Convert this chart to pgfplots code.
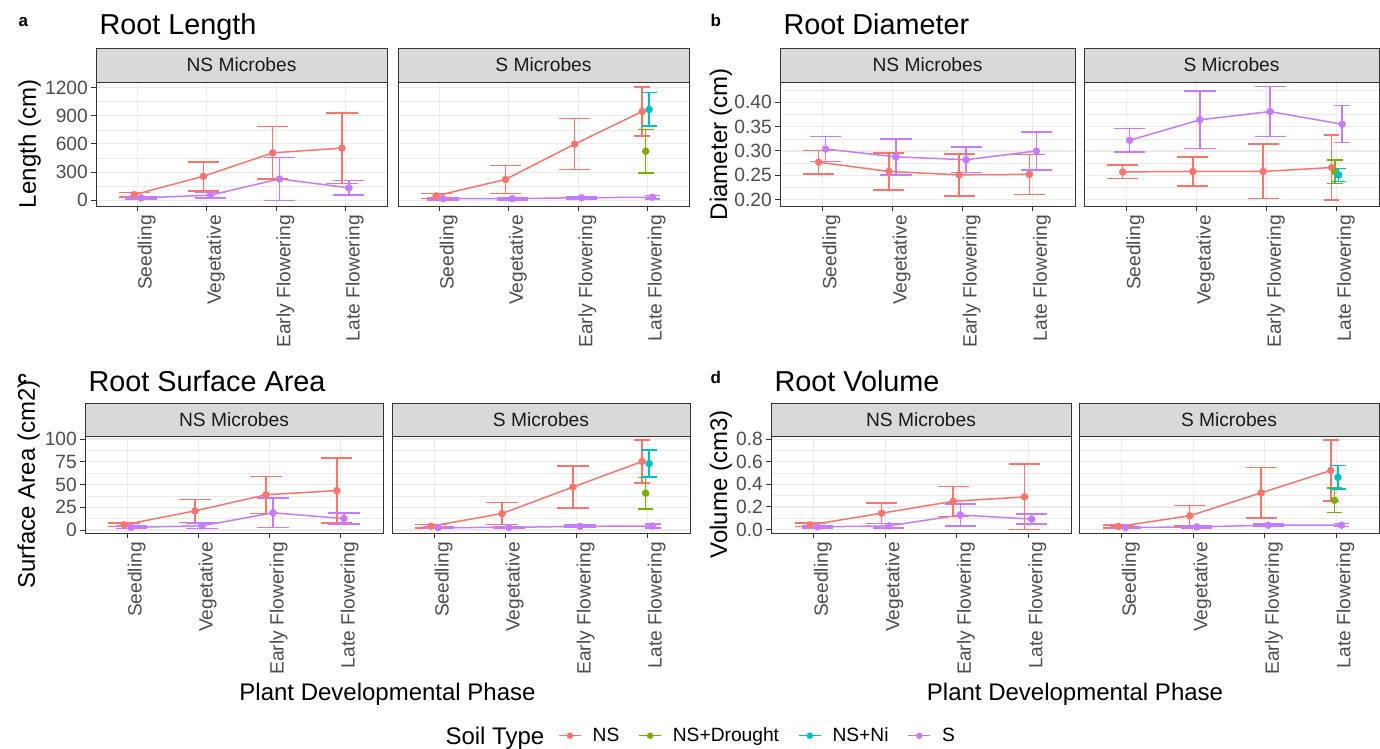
\documentclass[border=0pt]{standalone}
\usepackage{pgfplots}
\pgfplotsset{compat=1.18}
\usepackage{fontspec}
\setmainfont{Liberation Sans}
\definecolor{cNS}{HTML}{F8766D}
\definecolor{cND}{HTML}{7CAE00}
\definecolor{cNi}{HTML}{00BFC4}
\definecolor{cS}{HTML}{C77CFF}
\definecolor{gridc}{HTML}{EBEBEB}
\definecolor{axc}{HTML}{333333}
\definecolor{tickc}{HTML}{4D4D4D}
\definecolor{stripc}{HTML}{D9D9D9}
\definecolor{stript}{HTML}{1A1A1A}
\newcommand\ticfont{\fontsize{19.2}{23}\selectfont}
\newcommand\labfont{\fontsize{24}{28}\selectfont}
\newcommand\titfont{\fontsize{28.8}{34}\selectfont}
\newcommand\tagfont{\fontsize{17}{20}\selectfont\bfseries}
\pgfplotsset{
  facet/.style={
    scale only axis, anchor=south west,
    xmin=0.4, xmax=4.6, xtick={1,2,3,4},
    xticklabels={Seedling,Vegetative,Early Flowering,Late Flowering},
    xmajorgrids, ymajorgrids, yminorgrids,
    major grid style={draw=gridc, line width=1.1pt},
    minor grid style={draw=gridc, line width=0.55pt},
    tick align=outside, major tick length=5pt, minor tick length=0pt,
    xtick pos=left, ytick pos=left,
    tick style={draw=axc, line width=1pt},
    axis line style={draw=axc, line width=0.9pt},
    ticklabel style={font=\ticfont, text=tickc},
    xticklabel style={rotate=90, anchor=north east, inner sep=0pt, xshift=-4pt},
    yticklabel style={inner sep=0pt, xshift=-3pt},
    /pgf/number format/assume math mode=true,
  },
  nofirst/.style={yticklabels={}, ytick style={draw=none}},
  ln/.style={line width=1.5pt, mark=none},
  eb/.style={only marks, mark=*, mark size=3.5pt,
    /pgfplots/error bars/y dir=both, /pgfplots/error bars/y explicit,
    /pgfplots/error bars/error bar style={line width=1.5pt},
    /pgfplots/error bars/error mark options={rotate=90, mark size=15.6pt, line width=1.5pt}},
  ebq/.style={only marks, mark=*, mark size=3.5pt,
    /pgfplots/error bars/y dir=both, /pgfplots/error bars/y explicit,
    /pgfplots/error bars/error bar style={line width=1.5pt},
    /pgfplots/error bars/error mark options={rotate=90, mark size=7.8pt, line width=1.5pt}},
}
\newcommand\strip[5]{\draw[draw=axc, line width=0.9pt, fill=stripc] (#1pt,#3pt) rectangle (#2pt,#4pt);
  \node[font=\ticfont, text=stript] at ({(#1+#2)/2*1pt},{(#3+#4)/2*1pt}) {#5};}
\begin{document}
\begin{tikzpicture}[x=1pt,y=1pt]
\useasboundingbox (0,0) rectangle (1380,748);
% ---------------- Panel a ----------------
\node[anchor=base west, font=\tagfont] at (15,721) {a};
\node[anchor=base west, font=\titfont] at (96,713) {Root Length};
\node[rotate=90, anchor=base, font=\labfont] at (36,604) {Length (cm)};
\strip{96}{387}{666}{700}{NS Microbes}
\strip{398}{689}{666}{700}{S Microbes}
\begin{axis}[facet, at={(96pt,542pt)}, width=291pt, height=124pt,
  ymin=-60, ymax=1258, ytick={0,300,600,900,1200}, yticklabels={0,300,600,900,1200},
  minor ytick={150,450,750,1050}]
\addplot[cNS, ln] coordinates {(0.95,60) (1.95,256) (2.95,505) (3.95,555)};
\addplot[cS, ln] coordinates {(1.05,26) (2.05,55) (3.05,228) (4.05,133)};
\addplot[cNS, eb] coordinates {(0.95,60) +- (0,25) (1.95,256) +- (0,154) (2.95,505) +- (0,280) (3.95,555) +- (0,375)};
\addplot[cS, eb] coordinates {(1.05,26) +- (0,12) (2.05,55) +- (0,30) (3.05,228) +- (0,228) (4.05,133) +- (0,76)};
\end{axis}
\begin{axis}[facet, nofirst, at={(398pt,542pt)}, width=291pt, height=124pt,
  ymin=-60, ymax=1258, ytick={0,300,600,900,1200}, minor ytick={150,450,750,1050}]
\addplot[cNS, ln] coordinates {(0.95,48) (1.95,222) (2.95,598) (3.925,945)};
\addplot[cS, ln] coordinates {(1.05,18) (2.05,18) (3.05,28) (4.075,33)};
\addplot[cNS, eb] coordinates {(0.95,48) +- (0,27) (1.95,222) +- (0,150) (2.95,598) +- (0,272)};
\addplot[cNS, ebq] coordinates {(3.925,945) +- (0,259)};
\addplot[cND, ebq] coordinates {(3.975,523) +- (0,230)};
\addplot[cNi, ebq] coordinates {(4.025,966) +- (0,178)};
\addplot[cS, eb] coordinates {(1.05,18) +- (0,12) (2.05,18) +- (0,14) (3.05,28) +- (0,12)};
\addplot[cS, ebq] coordinates {(4.075,33) +- (0,20)};
\end{axis}
% ---------------- Panel b ----------------
\node[anchor=base west, font=\tagfont] at (707,721) {b};
\node[anchor=base west, font=\titfont] at (780,713) {Root Diameter};
\node[rotate=90, anchor=base, font=\labfont] at (727,604) {Diameter (cm)};
\strip{780}{1075}{666}{700}{NS Microbes}
\strip{1084}{1379}{666}{700}{S Microbes}
\begin{axis}[facet, at={(780pt,542pt)}, width=295pt, height=124pt,
  ymin=0.187, ymax=0.4417, ytick={0.20,0.25,0.30,0.35,0.40},
  yticklabels={0.20,0.25,0.30,0.35,0.40}, minor ytick={0.225,0.275,0.325,0.375,0.425}]
\addplot[cNS, ln] coordinates {(0.95,0.277) (1.95,0.258) (2.95,0.251) (3.95,0.252)};
\addplot[cS, ln] coordinates {(1.05,0.304) (2.05,0.288) (3.05,0.282) (4.05,0.300)};
\addplot[cNS, eb] coordinates {(0.95,0.277) +- (0,0.024) (1.95,0.258) +- (0,0.038) (2.95,0.251) +- (0,0.043) (3.95,0.252) +- (0,0.041)};
\addplot[cS, eb] coordinates {(1.05,0.304) +- (0,0.026) (2.05,0.288) +- (0,0.037) (3.05,0.282) +- (0,0.026) (4.05,0.300) +- (0,0.039)};
\end{axis}
\begin{axis}[facet, nofirst, at={(1084pt,542pt)}, width=295pt, height=124pt,
  ymin=0.187, ymax=0.4417, ytick={0.20,0.25,0.30,0.35,0.40},
  minor ytick={0.225,0.275,0.325,0.375,0.425}]
\addplot[cNS, ln] coordinates {(0.95,0.257) (1.95,0.258) (2.95,0.258) (3.925,0.266)};
\addplot[cS, ln] coordinates {(1.05,0.322) (2.05,0.364) (3.05,0.381) (4.075,0.355)};
\addplot[cNS, eb] coordinates {(0.95,0.257) +- (0,0.014) (1.95,0.258) +- (0,0.030) (2.95,0.258) +- (0,0.056)};
\addplot[cNS, ebq] coordinates {(3.925,0.266) +- (0,0.067)};
\addplot[cND, ebq] coordinates {(3.975,0.257) +- (0,0.024)};
\addplot[cNi, ebq] coordinates {(4.025,0.251) +- (0,0.0134)};
\addplot[cS, eb] coordinates {(1.05,0.322) +- (0,0.024) (2.05,0.364) +- (0,0.059) (3.05,0.381) +- (0,0.051)};
\addplot[cS, ebq] coordinates {(4.075,0.355) +- (0,0.038)};
\end{axis}
% ---------------- Panel c ----------------
\node[anchor=base west, font=\tagfont] at (14,365) {c};
\node[anchor=base west, font=\titfont] at (85,357) {Root Surface Area};
\node[rotate=90, anchor=base, font=\labfont] at (35,263.5) {Surface Area (cm2)};
\strip{85}{383}{312}{345}{NS Microbes}
\strip{392}{690}{312}{345}{S Microbes}
\begin{axis}[facet, at={(85pt,215pt)}, width=298pt, height=97pt,
  ymin=-3.3, ymax=103.3, ytick={0,25,50,75,100}, yticklabels={0,25,50,75,100},
  minor ytick={12.5,37.5,62.5,87.5}]
\addplot[cNS, ln] coordinates {(0.95,5.7) (1.95,21) (2.95,38.7) (3.95,43.3)};
\addplot[cS, ln] coordinates {(1.05,2.9) (2.05,4.6) (3.05,18.9) (4.05,12.6)};
\addplot[cNS, eb] coordinates {(0.95,5.7) +- (0,2) (1.95,21) +- (0,12.5) (2.95,38.7) +- (0,20.3) (3.95,43.3) +- (0,35.7)};
\addplot[cS, eb] coordinates {(1.05,2.9) +- (0,1.5) (2.05,4.6) +- (0,3.1) (3.05,18.9) +- (0,16.3) (4.05,12.6) +- (0,6)};
\end{axis}
\begin{axis}[facet, nofirst, at={(392pt,215pt)}, width=298pt, height=97pt,
  ymin=-3.3, ymax=103.3, ytick={0,25,50,75,100}, minor ytick={12.5,37.5,62.5,87.5}]
\addplot[cNS, ln] coordinates {(0.95,4.2) (1.95,18.1) (2.95,47.2) (3.925,75.3)};
\addplot[cS, ln] coordinates {(1.05,2.6) (2.05,2.9) (3.05,4) (4.075,4.4)};
\addplot[cNS, eb] coordinates {(0.95,4.2) +- (0,2) (1.95,18.1) +- (0,12.2) (2.95,47.2) +- (0,23)};
\addplot[cNS, ebq] coordinates {(3.925,75.3) +- (0,23.6)};
\addplot[cND, ebq] coordinates {(3.975,40.5) +- (0,17.4)};
\addplot[cNi, ebq] coordinates {(4.025,73) +- (0,14.8)};
\addplot[cS, eb] coordinates {(1.05,2.6) +- (0,1.2) (2.05,2.9) +- (0,1.2) (3.05,4) +- (0,1.5)};
\addplot[cS, ebq] coordinates {(4.075,4.4) +- (0,2)};
\end{axis}
\node[font=\labfont, anchor=base] at (387.5,48) {Plant Developmental Phase};
% ---------------- Panel d ----------------
\node[anchor=base west, font=\tagfont] at (707,365) {d};
\node[anchor=base west, font=\titfont] at (771,357) {Root Volume};
\node[rotate=90, anchor=base, font=\labfont] at (727,263.5) {Volume (cm3)};
\strip{771}{1071}{312}{345}{NS Microbes}
\strip{1079}{1379}{312}{345}{S Microbes}
\begin{axis}[facet, at={(771pt,215pt)}, width=300pt, height=97pt,
  ymin=-0.03, ymax=0.827, ytick={0,0.2,0.4,0.6,0.8}, yticklabels={0.0,0.2,0.4,0.6,0.8},
  minor ytick={0.1,0.3,0.5,0.7}]
\addplot[cNS, ln] coordinates {(0.95,0.042) (1.95,0.145) (2.95,0.25) (3.95,0.289)};
\addplot[cS, ln] coordinates {(1.05,0.024) (2.05,0.033) (3.05,0.129) (4.05,0.093)};
\addplot[cNS, eb] coordinates {(0.95,0.042) +- (0,0.015) (1.95,0.145) +- (0,0.089) (2.95,0.25) +- (0,0.132) (3.95,0.289) +- (0,0.289)};
\addplot[cS, eb] coordinates {(1.05,0.024) +- (0,0.01) (2.05,0.033) +- (0,0.02) (3.05,0.129) +- (0,0.099) (4.05,0.093) +- (0,0.043)};
\end{axis}
\begin{axis}[facet, nofirst, at={(1079pt,215pt)}, width=300pt, height=97pt,
  ymin=-0.03, ymax=0.827, ytick={0,0.2,0.4,0.6,0.8}, minor ytick={0.1,0.3,0.5,0.7}]
\addplot[cNS, ln] coordinates {(0.95,0.028) (1.95,0.122) (2.95,0.325) (3.925,0.522)};
\addplot[cS, ln] coordinates {(1.05,0.018) (2.05,0.024) (3.05,0.039) (4.075,0.039)};
\addplot[cNS, eb] coordinates {(0.95,0.028) +- (0,0.013) (1.95,0.122) +- (0,0.089) (2.95,0.325) +- (0,0.224)};
\addplot[cNS, ebq] coordinates {(3.925,0.522) +- (0,0.27)};
\addplot[cND, ebq] coordinates {(3.975,0.259) +- (0,0.108)};
\addplot[cNi, ebq] coordinates {(4.025,0.462) +- (0,0.104)};
\addplot[cS, eb] coordinates {(1.05,0.018) +- (0,0.01) (2.05,0.024) +- (0,0.01) (3.05,0.039) +- (0,0.01)};
\addplot[cS, ebq] coordinates {(4.075,0.039) +- (0,0.013)};
\end{axis}
\node[font=\labfont, anchor=base] at (1075,48) {Plant Developmental Phase};
% ---------------- Legend ----------------
\node[font=\labfont, anchor=base west] at (442,4) {Soil Type};
\begin{axis}[hide axis, scale only axis, width=1pt, height=1pt, at={(558pt,12.3pt)}, anchor=west,
  xmin=0, xmax=1, ymin=0, ymax=1, legend columns=-1,
  legend style={at={(0,0.5)}, anchor=west, draw=none, fill=none, font=\ticfont, inner sep=0pt,
    /tikz/every odd column/.append style={column sep=9pt},
    /tikz/every even column/.append style={column sep=17pt}},
  legend image code/.code={\draw[line width=1.5pt] (0pt,0pt) -- (22pt,0pt); \fill (11pt,0pt) circle (3pt);}]
\addlegendimage{cNS}\addlegendentry{NS}
\addlegendimage{cND}\addlegendentry{NS+Drought}
\addlegendimage{cNi}\addlegendentry{NS+Ni}
\addlegendimage{cS}\addlegendentry{S}
\end{axis}
\end{tikzpicture}
\end{document}
